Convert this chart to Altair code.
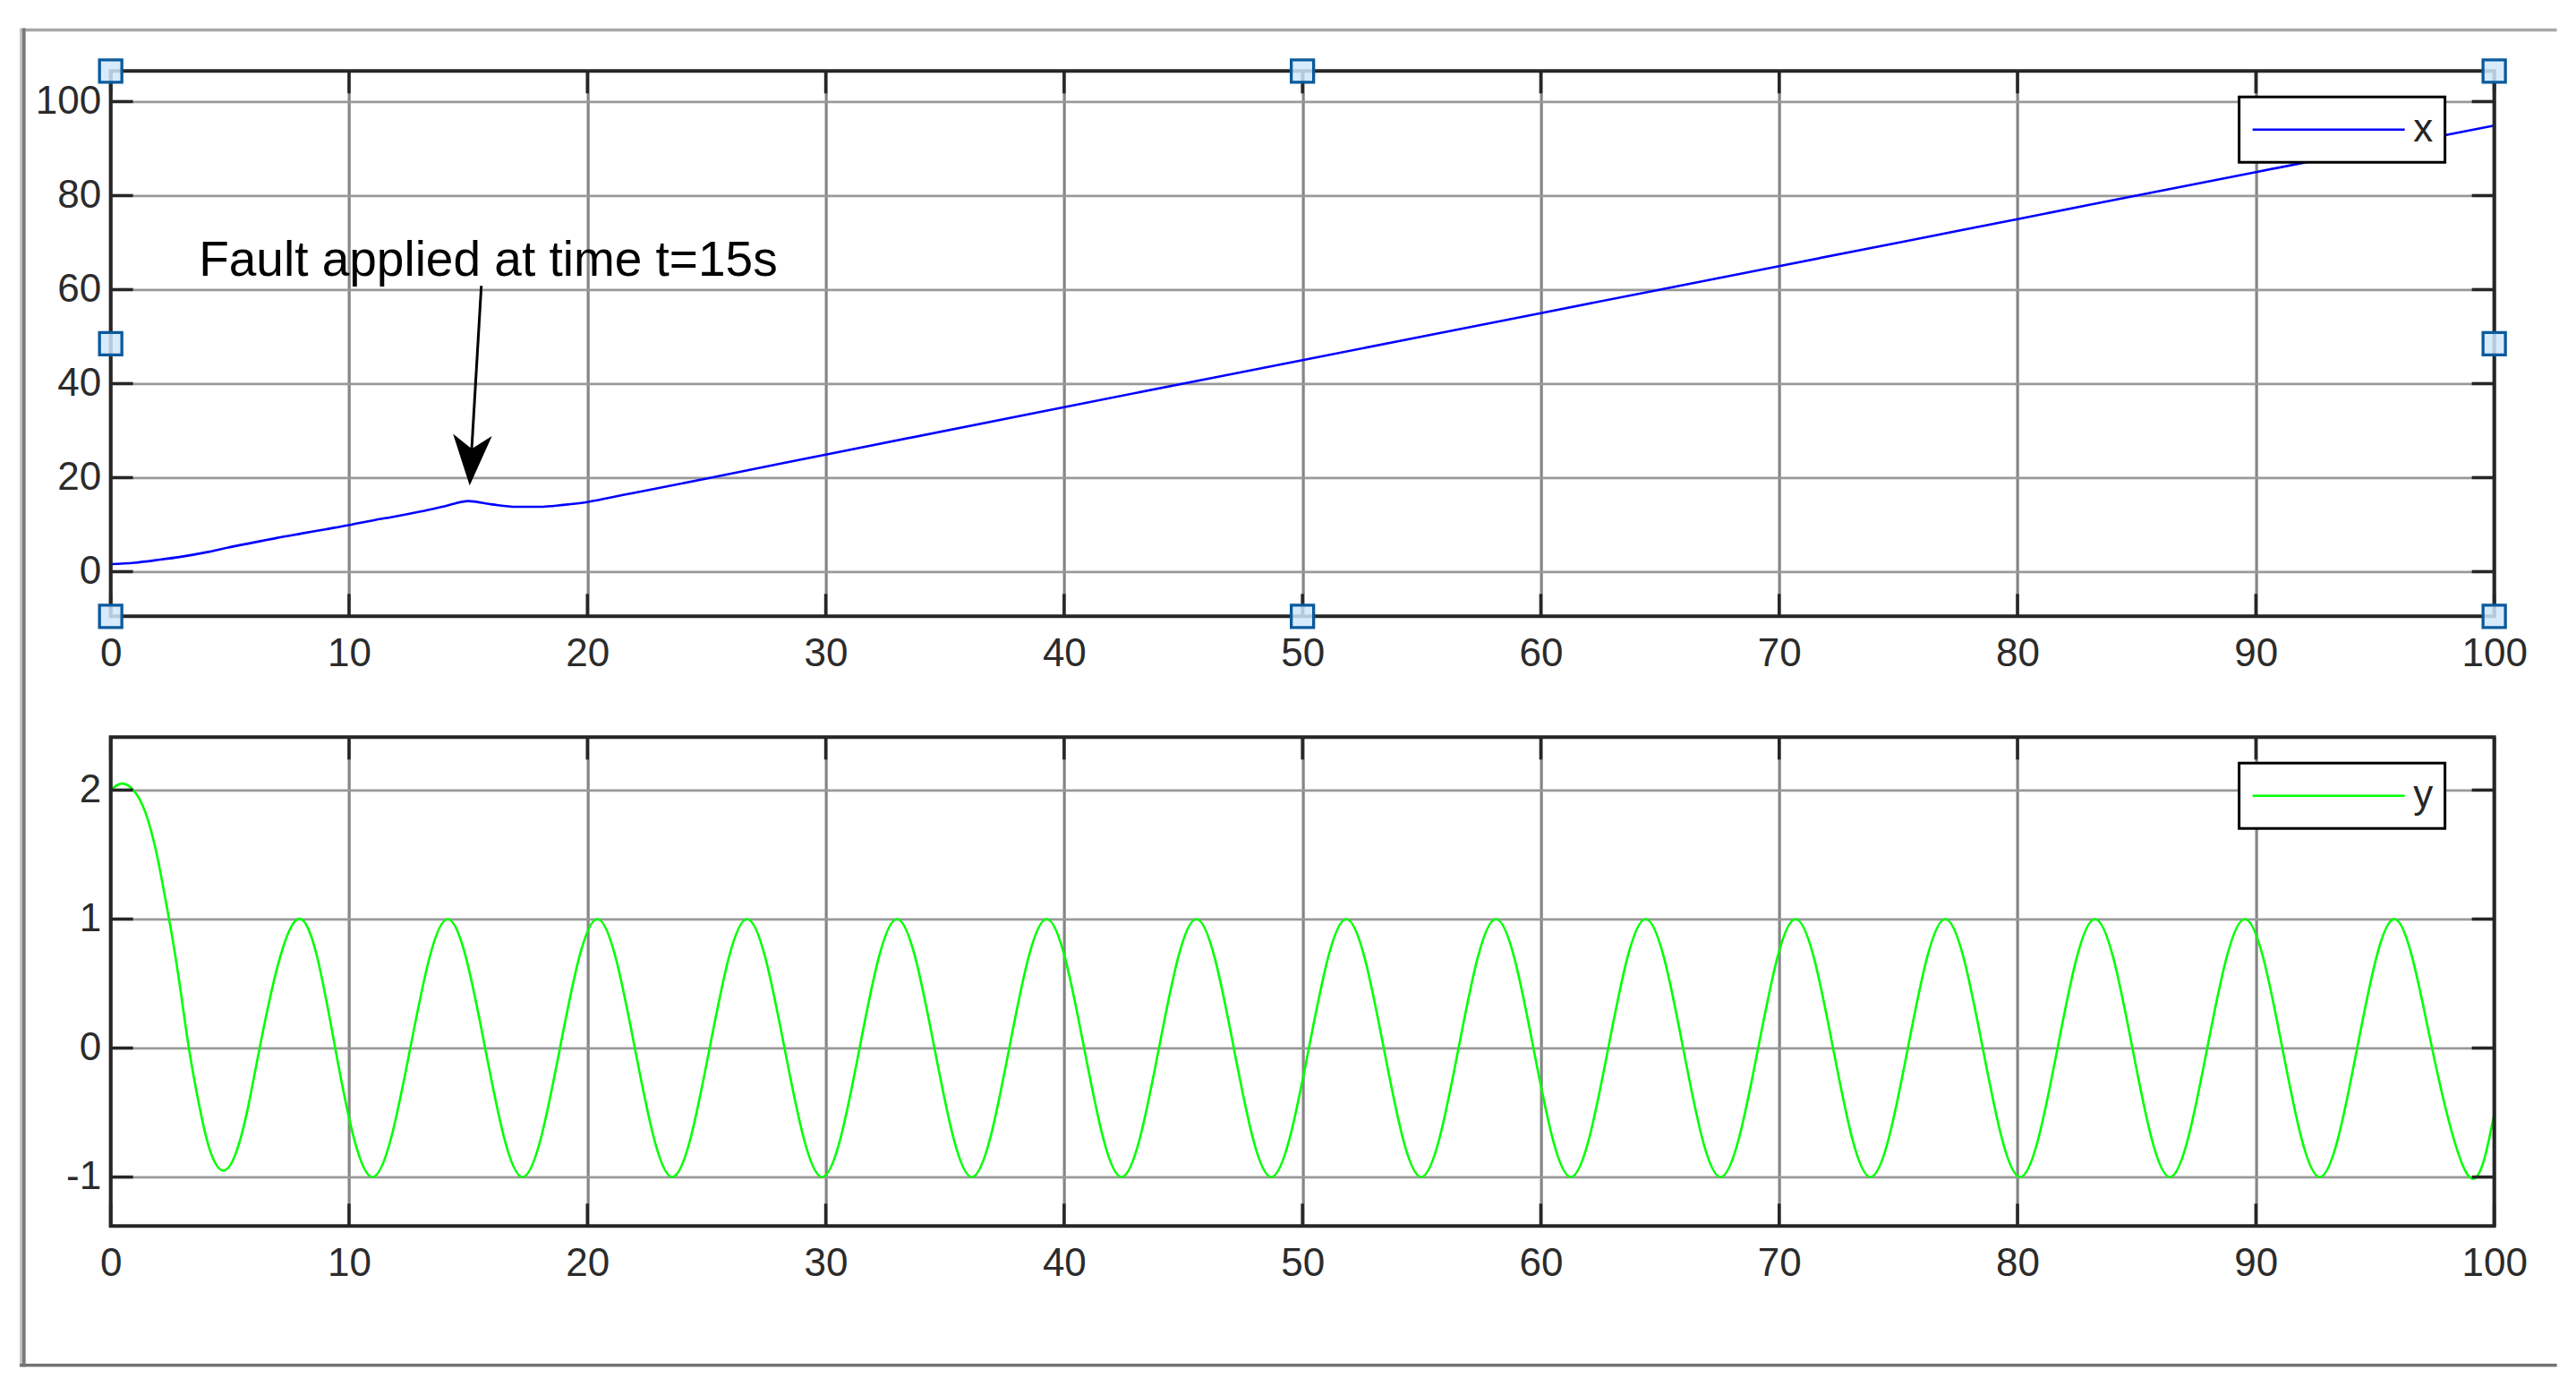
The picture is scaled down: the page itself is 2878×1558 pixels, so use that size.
import altair as alt
import pandas as pd

# ---------------- data ----------------
t_x = [0, 1, 2, 3, 4, 5, 6, 7, 8, 9, 10, 11, 12, 13, 14, 15, 16, 17, 18, 19,
       20, 21, 22, 25, 30, 40, 50, 60, 70, 80, 90, 100]
x_vals = [1.6, 1.9, 2.5, 3.2, 4.1, 5.2, 6.2, 7.2, 8.1, 9.0, 9.9, 10.9, 11.8, 12.8,
          13.9, 15.0, 14.3, 13.8, 13.8, 14.2, 14.8, 15.8, 16.8, 19.8, 24.9, 35.0,
          45.0, 55.0, 65.0, 75.0, 85.0, 94.9]

t_y = [0, 0.45, 0.95, 1.45, 1.9, 2.2, 2.45, 2.85, 3.28, 3.72, 4.16, 4.73, 5.3, 5.74, 6.25,
       7.85, 9.42, 10.99, 12.57, 14.14, 15.71, 17.28, 18.85, 20.42, 21.99, 23.56, 25.13,
       26.70, 28.27, 29.85, 31.42, 32.99, 34.56, 36.13, 37.70, 39.27, 40.84, 42.41, 43.98,
       45.55, 47.12, 48.69, 50.27, 51.84, 53.41, 54.98, 56.55, 58.12, 59.69, 61.26, 62.83,
       64.40, 65.97, 67.54, 69.12, 70.69, 72.26, 73.83, 75.40, 76.97, 78.54, 80.11, 81.68,
       83.25, 84.82, 86.39, 87.96, 89.54, 91.11, 92.68, 94.25, 95.82, 97.39, 98.96, 100.0]
y_vals = [2.0, 2.05, 2.0, 1.83, 1.53, 1.25, 1.0, 0.55, 0.0, -0.45, -0.79, -0.95, -0.79, -0.48, 0.0,
          1, 0, -1, 0, 1, 0, -1, 0, 1, 0, -1, 0,
          1, 0, -1, 0, 1, 0, -1, 0, 1, 0, -1, 0,
          1, 0, -1, 0, 1, 0, -1, 0, 1, 0, -1, 0,
          1, 0, -1, 0, 1, 0, -1, 0, 1, 0, -1, 0,
          1, 0, -1, 0, 1, 0, -1, 0, 1, 0, -1, -0.51]

series_names = ["x", "y"]
series_colors = ["#0000ff", "#00ff00"]

x_ticks = [0, 10, 20, 30, 40, 50, 60, 70, 80, 90, 100]
top_y_ticks = [0, 20, 40, 60, 80, 100]
bot_y_ticks = [-1, 0, 1, 2]
x_domain = [0, 100]
top_y_domain = [-9.5, 106.5]
bot_y_domain = [-1.38, 2.41]

fault_text = "Fault applied at time t=15s"
fault_text_pos = [3.7, 62.9]
arrow_tail = [15.55, 60.8]
arrow_neck = [15.14, 25.5]
arrow_head = [15.12, 23.7]

handle_x = [0, 50, 100, 0, 100, 0, 50, 100]
handle_row = ["top", "top", "top", "mid", "mid", "bot", "bot", "bot"]

# ---------------- layout / style ----------------
W = 2663
H_TOP = 609
H_BOT = 546
GAP = 135
TICK_PX = 25
FONT = "Liberation Sans"
AX_COLOR = "#262626"
LABEL_COLOR = "#2b2b2b"
XGRID_COLOR = "#858585"
YGRID_COLOR = "#999999"
ARROW_PATH = "M0,1L-0.77,-1L0,-0.45L0.77,-1Z"


def axes(y_ticks):
    x_axis = alt.Axis(values=x_ticks, grid=True, gridColor=XGRID_COLOR, gridWidth=3.2,
                      ticks=False, tickSize=0, domain=False, labelFlush=False,
                      labelOverlap=False, labelPadding=20, labelFontSize=44,
                      labelFont=FONT, labelColor=LABEL_COLOR, title=None,
                      labelExpr="'' + datum.value")
    y_axis = alt.Axis(values=y_ticks, grid=True, gridColor=YGRID_COLOR, gridWidth=2.8,
                      ticks=False, tickSize=0, domain=False, labelOverlap=False,
                      labelPadding=11, labelFontSize=44, labelFont=FONT,
                      labelColor=LABEL_COLOR, title=None,
                      labelExpr="'' + datum.value")
    return x_axis, y_axis


def panel(t, v, idx, y_domain, y_ticks, H, interp, legend_y):
    x_axis, y_axis = axes(y_ticks)
    xs = alt.Scale(domain=x_domain, nice=False, zero=False)
    ys = alt.Scale(domain=y_domain, nice=False, zero=False)

    def X(f):
        return alt.X(f, type="quantitative", scale=xs, axis=x_axis)

    def Y(f):
        return alt.Y(f, type="quantitative", scale=ys, axis=y_axis)

    name = series_names[idx]
    df = pd.DataFrame({"t": t, "v": v, "series": name})
    line = alt.Chart(df).mark_line(strokeWidth=2.6, interpolate=interp).encode(
        x=X("t"), y=Y("v"),
        color=alt.Color("series:N",
                        scale=alt.Scale(domain=[name], range=[series_colors[idx]]),
                        legend=alt.Legend(title=None, orient="none", legendX=2378,
                                          legendY=legend_y, symbolType="stroke",
                                          symbolSize=28900, symbolStrokeWidth=2.6,
                                          clipHeight=46, labelFont=FONT,
                                          labelFontSize=44, labelColor=AX_COLOR,
                                          labelOffset=8, padding=13.5, symbolOffset=0,
                                          strokeColor="black", fillColor="white")))

    dx = TICK_PX * (x_domain[1] - x_domain[0]) / W
    dy = TICK_PX * (y_domain[1] - y_domain[0]) / H
    rows = []
    for yv in y_ticks:
        rows.append(dict(a=x_domain[0], b=x_domain[0] + dx, c=yv, d=yv))
        rows.append(dict(a=x_domain[1] - dx, b=x_domain[1], c=yv, d=yv))
    for xv in x_ticks:
        rows.append(dict(a=xv, b=xv, c=y_domain[0], d=y_domain[0] + dy))
        rows.append(dict(a=xv, b=xv, c=y_domain[1] - dy, d=y_domain[1]))
    ticks = alt.Chart(pd.DataFrame(rows)).mark_rule(color=AX_COLOR, strokeWidth=3.5).encode(
        x=X("a"), x2="b", y=Y("c"), y2="d")

    box_df = pd.DataFrame({"a": [x_domain[0]], "b": [x_domain[1]],
                           "c": [y_domain[0]], "d": [y_domain[1]]})
    box = alt.Chart(box_df).mark_rect(fillOpacity=0, stroke=AX_COLOR, strokeWidth=4).encode(
        x=X("a"), x2="b", y=Y("c"), y2="d")
    return [line, ticks, box], X, Y


one = pd.DataFrame({"k": [0]})

# ---------- top panel ----------
top_layers, Xt, Yt = panel(t_x, x_vals, 0, top_y_domain, top_y_ticks, H_TOP, "monotone", 29)

row_val = {"top": top_y_domain[1], "bot": top_y_domain[0],
           "mid": (top_y_domain[0] + top_y_domain[1]) / 2}
hdf = pd.DataFrame({"hx": handle_x, "hy": [row_val[r] for r in handle_row]})
handles = alt.Chart(hdf).mark_point(shape="square", filled=True, fill="#cfe8fb",
                                    fillOpacity=0.85, stroke="#0a5a9c", strokeWidth=3.3,
                                    size=625, opacity=1).encode(x=Xt("hx"), y=Yt("hy"))

ann_df = pd.DataFrame({"tx": [fault_text_pos[0]], "ty": [fault_text_pos[1]], "label": [fault_text]})
ann_text = alt.Chart(ann_df).mark_text(align="left", baseline="alphabetic", font=FONT,
                                       fontSize=55, color="black").encode(
    x=Xt("tx"), y=Yt("ty"), text="label:N")
shaft_df = pd.DataFrame({"a": [arrow_tail[0]], "b": [arrow_neck[0]],
                         "c": [arrow_tail[1]], "d": [arrow_neck[1]]})
shaft = alt.Chart(shaft_df).mark_rule(color="black", strokeWidth=3).encode(
    x=Xt("a"), x2="b", y=Yt("c"), y2="d")
head_df = pd.DataFrame({"a": [arrow_head[0]], "c": [arrow_head[1]]})
head = alt.Chart(head_df).mark_point(shape=ARROW_PATH, filled=True, size=3204, angle=3.2,
                                     color="black", opacity=1).encode(x=Xt("a"), y=Yt("c"))

# window frame (decoration, pixels relative to the top plot area)
frame_top = alt.Chart(one).mark_rule(color="#a6a6a6", strokeWidth=3.7).encode(
    x=alt.value(-101.7), x2=alt.value(2733), y=alt.value(-45.8))
frame_left_light = alt.Chart(one).mark_rule(color="#c6c6c6", strokeWidth=2.7).encode(
    x=alt.value(-100.35), y=alt.value(-47.7), y2=alt.value(1447.3))
frame_left_dark = alt.Chart(one).mark_rule(color="#7a7a7a", strokeWidth=4).encode(
    x=alt.value(-97), y=alt.value(-47.7), y2=alt.value(1447.3))
frame_bottom = alt.Chart(one).mark_rule(color="#737373", strokeWidth=3.6).encode(
    x=alt.value(-101.7), x2=alt.value(2733), y=alt.value(1445.5))

top = alt.layer(frame_top, frame_left_light, frame_left_dark, frame_bottom, *top_layers,
                handles, ann_text, shaft, head).properties(width=W, height=H_TOP)

# ---------- bottom panel ----------
bot_layers, Xb, Yb = panel(t_y, y_vals, 1, bot_y_domain, bot_y_ticks, H_BOT, "natural", 29)
bottom = alt.layer(*bot_layers).properties(width=W, height=H_BOT)

chart = alt.vconcat(top, bottom, spacing=GAP, bounds="flush").resolve_scale(
    x="independent", y="independent", color="independent"
).resolve_legend(color="independent").properties(
    padding={"left": 10.65, "top": 20.3, "right": 5, "bottom": 5},
    background="white",
).configure_view(stroke="transparent").configure_legend(strokeWidth=3)

chart.save("out.html", embed_options={"renderer": "svg", "actions": False})
